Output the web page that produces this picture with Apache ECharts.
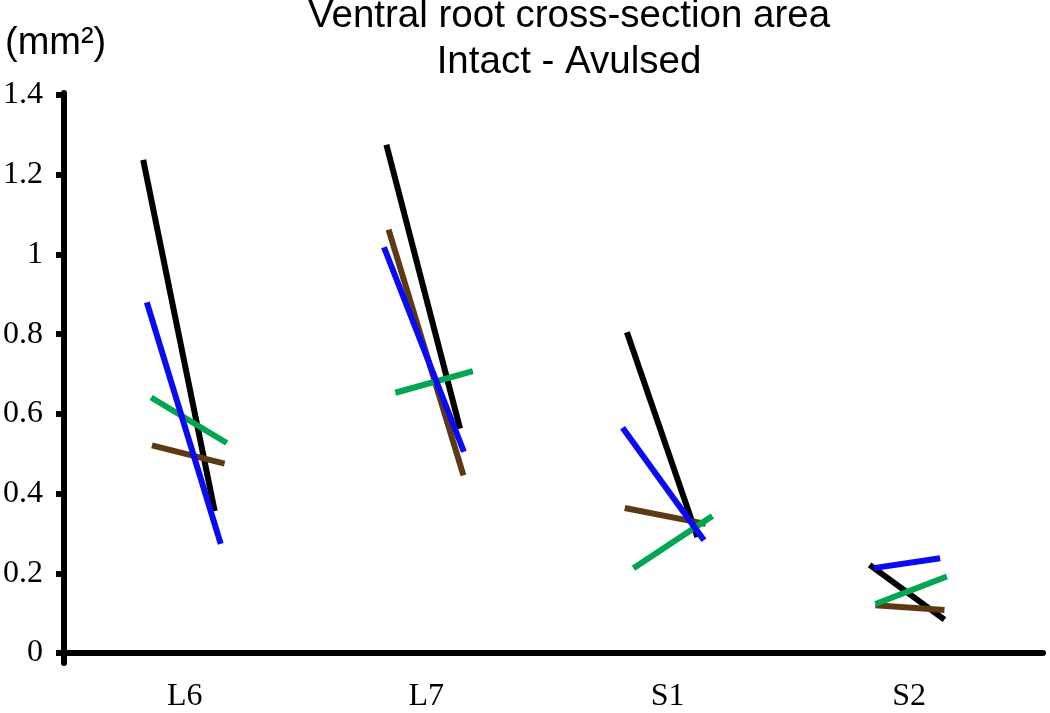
<!DOCTYPE html>
<html><head><meta charset="utf-8">
<script src="https://cdn.jsdelivr.net/npm/echarts@6/dist/echarts.min.js"></script>
<style>html,body{margin:0;padding:0;background:#fff}#c{width:1050px;height:713px}</style>
</head><body><div id="c"></div>
<script>
// Categories and tick labels
const categories = ['L6', 'L7', 'S1', 'S2'];
const yTicks = [0, 0.2, 0.4, 0.6, 0.8, 1, 1.2, 1.4];

// Intact (left end) and avulsed (right end) values, per category
const blackIntact  = [1.237, 1.275, 0.805, 0.221];
const blackAvulsed = [0.356, 0.563, 0.291, 0.084];
const blueIntact   = [0.880, 1.018, 0.565, 0.213];
const blueAvulsed  = [0.274, 0.505, 0.283, 0.238];
const greenIntact  = [0.641, 0.653, 0.213, 0.123];
const greenAvulsed = [0.527, 0.707, 0.344, 0.192];
const brownIntact  = [0.521, 1.062, 0.364, 0.120];
const brownAvulsed = [0.475, 0.446, 0.324, 0.108];

// Horizontal placement of each end, relative to its category (category units)
const blackStartX = [-0.172, -0.165, -0.169, -0.164];
const blackEndX   = [0.124, 0.140, 0.123, 0.146];
const blueStartX  = [-0.157, -0.175, -0.187, -0.148];
const blueEndX    = [0.149, 0.156, 0.150, 0.128];
const greenStartX = [-0.139, -0.128, -0.142, -0.140];
const greenEndX   = [0.174, 0.193, 0.185, 0.156];
const brownStartX = [-0.136, -0.156, -0.178, -0.140];
const brownEndX   = [0.165, 0.154, 0.157, 0.146];

const groups = [
  { color: '#000000', a: blackIntact, b: blackAvulsed, s: blackStartX, e: blackEndX },
  { color: '#5e3a14', a: brownIntact, b: brownAvulsed, s: brownStartX, e: brownEndX },
  { color: '#00a651', a: greenIntact, b: greenAvulsed, s: greenStartX, e: greenEndX },
  { color: '#0a0af5', a: blueIntact,  b: blueAvulsed,  s: blueStartX,  e: blueEndX }
];

const series = [];
groups.forEach(g => {
  categories.forEach((c, i) => {
    series.push({
      type: 'line',
      data: [[i + g.s[i], g.a[i]], [i + g.e[i], g.b[i]]],
      symbol: 'none',
      silent: true,
      animation: false,
      lineStyle: { color: g.color, width: 6, cap: 'butt' }
    });
  });
});

const chart = echarts.init(document.getElementById('c'));
chart.setOption({
  backgroundColor: '#ffffff',
  animation: false,
  title: [
    {
      text: 'Ventral root cross-section area\nIntact - Avulsed',
      left: 569, top: -7, textAlign: 'center', padding: 0,
      textStyle: { fontFamily: 'Liberation Sans', fontSize: 38.5, fontWeight: 'normal', color: '#000', lineHeight: 46 }
    },
    {
      text: '(mm²)',
      left: 5, top: 21, padding: 0,
      textStyle: { fontFamily: 'Liberation Sans', fontSize: 38, fontWeight: 'normal', color: '#000', lineHeight: 46 }
    }
  ],
  grid: { left: 62, right: 7, top: 93, bottom: 38 },
  xAxis: {
    type: 'value',
    min: -0.5, max: 3.554, interval: 0.5,
    splitLine: { show: false },
    axisTick: { show: false },
    axisLine: { show: true, onZero: true, lineStyle: { color: '#000', width: 6 } },
    axisLabel: {
      margin: 18,
      fontFamily: 'Liberation Serif', fontSize: 32, color: '#000',
      showMinLabel: true, showMaxLabel: false,
      formatter: v => (Number.isInteger(v) && v >= 0 && v < categories.length) ? categories[v] : ''
    }
  },
  yAxis: {
    type: 'value',
    min: -0.025, max: 1.405,
    splitLine: { show: false },
    axisLine: { show: true, onZero: false, lineStyle: { color: '#000', width: 6 } },
    axisTick: { show: true, inside: false, length: 8, customValues: yTicks, lineStyle: { color: '#000', width: 6 } },
    axisLabel: {
      margin: 21, customValues: yTicks,
      fontFamily: 'Liberation Serif', fontSize: 32, color: '#000',
      formatter: v => String(v)
    }
  },
  series: series
});
</script>
</body></html>
